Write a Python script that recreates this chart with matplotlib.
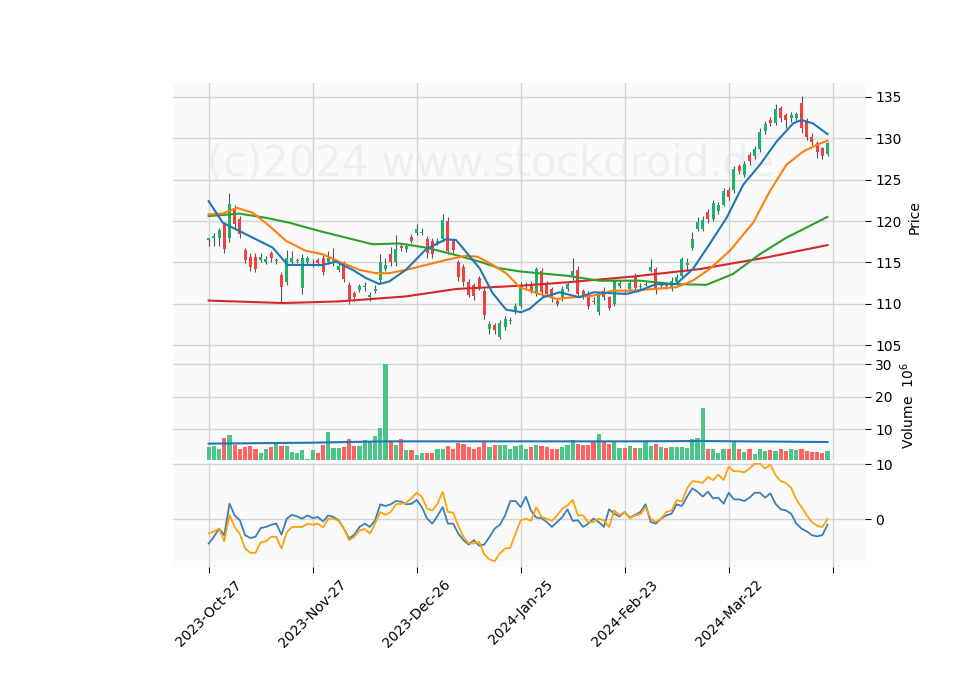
import matplotlib
matplotlib.use("Agg")
import matplotlib.pyplot as plt
import numpy as np

opens = [117.7,117.9,117.9,119.6,117.9,121.6,120.3,116.5,115.7,115.7,115.3,115.0,116.1,115.2,113.5,112.7,115.1,115.2,111.9,115.1,
         115.0,115.3,115.5,115.1,115.2,114.1,115.0,112.3,111.3,111.7,112.0,110.8,111.5,112.9,114.2,116.0,115.0,117.0,116.6,118.1,
         118.6,118.6,117.8,117.6,117.4,117.8,120.0,117.6,115.0,114.5,112.7,112.3,113.1,111.6,107.0,107.4,106.0,107.2,107.9,109.0,
         109.8,112.1,112.4,111.2,114.0,112.4,111.8,110.4,110.8,111.8,113.2,114.1,111.5,111.2,110.4,109.0,111.6,110.8,110.0,112.1,
         111.7,111.8,113.2,112.0,112.3,114.0,114.2,112.1,112.4,111.9,112.6,113.4,114.7,116.8,119.1,119.1,121.1,120.3,121.2,122.0,
         123.7,123.7,126.6,125.6,128.0,127.9,128.7,130.9,132.2,131.9,133.7,132.8,132.5,132.5,134.3,132.0,130.1,129.4,128.8,128.1]
closes = [117.9,118.2,118.9,116.6,122.1,119.6,118.4,115.3,114.5,114.2,115.7,115.4,115.5,115.3,112.0,115.5,115.5,115.3,115.5,115.5,
          115.1,114.9,113.9,115.5,115.3,114.6,113.0,110.5,110.8,112.1,112.2,111.1,111.8,115.0,114.7,115.0,116.6,116.7,117.0,117.6,
          119.1,118.7,116.1,116.0,117.6,120.1,116.4,116.5,113.3,112.7,111.1,110.9,112.0,108.6,107.6,106.9,107.7,108.2,108.0,109.7,
          112.2,112.2,111.6,114.2,111.4,111.2,110.8,110.0,111.8,112.4,114.0,111.2,111.0,109.8,110.2,111.2,110.8,109.5,112.8,112.5,
          111.6,112.5,111.9,112.2,112.4,114.4,111.8,112.3,112.1,112.8,113.2,115.4,114.9,117.8,119.9,120.1,120.2,122.2,122.0,123.6,
          122.9,126.3,126.0,126.9,127.2,128.7,130.8,131.7,131.8,133.5,132.4,132.2,132.8,132.9,131.2,130.2,129.5,128.4,127.8,129.4]
highs = [118.0,118.6,119.2,119.9,123.4,122.0,120.6,116.8,116.1,116.2,116.1,115.8,116.4,115.6,113.8,116.5,116.4,115.6,116.0,115.8,
         115.4,115.6,115.9,116.4,116.8,114.9,115.2,112.6,111.6,112.4,112.6,111.4,112.3,116.0,115.6,116.9,118.3,117.3,117.4,118.4,
         119.6,119.2,118.2,117.9,117.9,120.8,120.5,117.9,115.3,114.8,113.0,112.5,113.4,111.9,107.9,107.7,108.0,108.5,108.4,110.1,
         112.6,112.6,112.8,114.5,114.3,112.8,112.0,110.7,112.1,112.7,115.5,114.6,111.8,111.5,110.8,111.4,112.0,111.0,113.0,112.9,
         111.8,112.9,113.7,112.5,112.8,115.4,114.5,112.5,112.7,113.2,113.6,115.7,115.6,118.7,120.5,120.6,121.5,122.6,122.3,124.0,
         124.1,126.6,126.9,127.2,128.3,129.1,131.3,132.1,132.6,134.1,133.9,133.1,133.2,133.2,135.1,132.4,130.6,129.7,129.0,129.6]
lows = [117.0,117.0,117.0,116.2,117.5,119.2,118.0,114.9,114.0,113.9,115.0,114.8,115.0,114.8,110.1,112.3,114.8,114.9,111.2,114.8,
        114.4,114.6,113.5,114.8,114.6,113.9,112.7,110.0,110.3,111.4,111.6,110.3,111.3,112.5,114.0,114.6,114.6,116.4,116.3,117.3,
        118.3,118.3,115.6,115.6,117.1,117.5,116.0,116.1,112.8,112.2,110.8,110.5,111.7,108.2,106.4,106.4,105.7,106.9,107.6,108.8,
        109.5,111.8,111.3,110.9,111.0,110.9,110.2,109.7,110.4,111.5,112.9,110.9,110.6,109.4,110.0,108.7,110.5,109.2,109.8,111.9,
        111.2,111.5,111.6,111.8,112.1,113.8,111.2,111.9,111.8,111.6,112.3,113.2,114.0,116.5,118.8,118.8,119.8,120.0,120.9,121.8,
        122.6,123.4,125.7,125.3,126.8,127.5,128.4,130.5,131.5,131.6,132.0,131.2,132.0,132.1,130.6,129.8,129.2,127.6,127.5,127.9]

volumes = [4.6,4.9,4.1,7.4,8.4,5.3,3.9,4.6,4.9,3.9,2.6,3.9,4.6,5.9,4.9,
           5.0,3.0,2.6,3.7,1.0,3.7,2.7,5.3,9.2,4.4,4.4,4.6,6.9,4.9,4.9,6.6,6.2,7.8,10.5,30.0,
           6.1,5.3,6.9,3.5,3.5,2.2,2.8,2.8,2.8,4.1,4.1,4.9,4.1,5.9,5.6,4.6,4.1,4.6,6.0,4.6,
           5.2,5.2,5.2,4.0,4.9,5.1,4.1,4.6,5.1,4.9,4.6,4.1,4.1,4.6,5.3,6.7,5.6,5.3,5.3,6.5,
           8.7,6.3,5.5,6.0,4.4,4.4,4.9,4.4,4.4,6.0,4.9,5.5,4.6,4.4,4.6,4.6,4.6,4.4,6.9,7.2,
           16.5,4.1,4.0,2.7,4.1,4.1,6.2,4.1,3.0,3.9,2.3,4.1,3.2,3.5,3.2,3.8,3.2,3.8,3.6,3.8,
           3.2,3.1,2.9,2.7,3.2]
vol_avg_i = [0, 20, 34, 60, 80, 95, 119]
vol_avg_v = [5.6, 5.9, 6.3, 6.3, 6.3, 6.4, 6.1]

osc_blue = [-4.4,-3.2,-1.7,-2.9,2.8,0.7,-0.2,-2.9,-3.4,-3.2,-1.6,-1.4,-1.0,-0.8,-2.8,0.1,0.8,0.5,0.1,0.7,
            0.2,0.4,-0.4,0.7,0.4,-0.2,-1.7,-3.5,-2.8,-1.4,-0.8,-1.4,-0.2,2.7,2.4,2.7,3.3,3.2,2.7,2.8,
            3.5,2.2,0.1,-0.8,0.6,2.2,-0.8,-0.8,-2.6,-3.8,-4.6,-3.8,-4.8,-4.6,-3.2,-1.7,-1.0,0.7,3.3,3.3,
            2.2,4.1,1.5,0.3,0.2,-0.5,-1.4,-0.5,0.4,1.8,-0.3,-0.2,-1.4,-0.8,0.1,-0.5,-1.4,1.8,1.0,0.5,
            1.3,0.3,0.8,1.3,2.7,-0.5,-0.8,0.1,0.7,1.0,2.7,2.4,4.1,5.6,5.0,4.1,5.0,3.8,3.9,2.8,
            4.8,3.6,3.6,3.3,3.9,4.8,4.8,3.9,4.7,2.8,1.8,1.6,1.0,-0.8,-1.7,-2.2,-2.9,-3.1,-2.9,-1.0]
osc_orange = [-2.6,-2.2,-1.7,-4.0,0.8,-1.4,-2.7,-5.3,-6.1,-6.1,-4.2,-4.0,-3.2,-3.2,-5.3,-2.4,-1.4,-1.4,-1.4,-0.8,
              -1.0,-0.8,-1.5,0.1,0.1,-0.3,-1.7,-3.8,-3.2,-2.0,-1.8,-2.6,-0.8,1.3,0.8,1.3,2.7,2.8,3.0,3.8,
              4.8,4.1,1.9,1.6,2.8,5.0,1.3,1.2,-1.2,-3.2,-4.4,-4.4,-4.1,-6.4,-7.3,-7.6,-6.2,-5.3,-5.2,-2.6,
              -0.2,0.1,-0.3,2.2,0.4,0.1,-0.3,0.7,1.9,2.5,3.5,0.7,0.7,-0.6,-0.5,0.1,-0.2,-1.4,1.6,0.7,
              1.3,0.2,0.7,0.9,2.2,0.1,-0.5,0.1,1.3,1.6,3.5,3.2,5.6,6.9,6.8,6.6,7.7,7.1,8.1,7.1,
              9.5,8.7,8.7,8.5,9.2,10.1,10.1,9.2,9.9,8.0,6.9,6.6,5.7,3.6,2.2,0.7,-0.5,-1.2,-1.4,0.0]

ma_blue_i = [0,2.7,5.9,9.1,12.3,15.2,18.7,21.9,24.5,27.7,30.3,32.8,34.7,37.9,41.8,45.6,47.6,52.1,54.6,57.2,60.1,
             61.7,64.3,67.5,71.3,74,77.1,80.3,82.9,86.1,89.9,93.1,96.3,99.6,102.8,106,109.2,112.4,114,116.2,119]
ma_blue_v = [122.4,119.8,118.8,117.8,116.8,114.7,114.7,114.7,115.1,114.1,113.1,112.4,112.7,114.1,116.6,117.8,117.7,114.3,111.3,109.3,109.0,
             109.4,110.8,111.4,110.8,111.4,111.3,111.2,111.6,112.4,112.4,114.2,117.2,120.4,124.4,126.8,129.6,131.8,132.2,131.8,130.5]
ma_orange_i = [0,2.7,5.4,8.5,11.7,14.9,18.7,21.9,25.1,29,32.2,34.7,37.9,41.8,45.6,49.4,51.7,54.6,57.2,59.8,
               63.6,66.9,70.1,74,77.8,81.6,85.5,89.9,93.1,96.3,100.2,104.7,107.9,111.1,114.3,116.9,119]
ma_orange_v = [120.8,120.9,121.6,121.0,119.4,117.6,116.4,116.0,115.1,114.1,113.7,113.7,114.1,114.7,115.3,115.8,115.7,114.7,113.7,112.0,
               111.2,110.6,110.8,111.0,111.6,111.6,111.8,112.0,112.8,114.2,116.4,119.8,123.6,126.8,128.4,129.2,129.7]
ma_green_i = [0,5.9,11,15.5,21.9,26.4,31.5,36.6,41.8,46.9,52.1,55.9,60.1,68.8,75.2,82.9,89.3,95.7,100.8,106,111.1,119]
ma_green_v = [120.6,120.9,120.4,119.8,118.7,118.0,117.2,117.3,116.8,116.0,115.1,114.3,113.9,113.4,112.8,112.8,112.4,112.3,113.6,116.0,118.0,120.5]
ma_red_i = [0,14.3,25.1,37.9,47.6,60.1,68.8,81.6,94.4,107.2,119]
ma_red_v = [110.4,110.1,110.3,110.9,111.8,112.2,112.6,113.3,114.2,115.6,117.1]

tick_pos = [0, 20, 40, 60, 80, 100, 120]
tick_labels = ["2023-Oct-27", "2023-Nov-27", "2023-Dec-26", "2024-Jan-25", "2024-Feb-23", "2024-Mar-22", ""]

UP, DN = "#1db26b", "#f53f3f"
VUP, VDN = "#4cc58a", "#ff6262"
BG, GRID = "#fafafa", "#d5d5d5"

fig = plt.figure(figsize=(9.6, 6.9), dpi=100)
axp = fig.add_axes([0.180, 0.490, 0.721, 0.390])
axv = fig.add_axes([0.180, 0.333, 0.721, 0.157], sharex=axp)
axo = fig.add_axes([0.180, 0.178, 0.721, 0.151], sharex=axp)

n = len(closes)
x = np.arange(n)
o, c, h, l = map(np.array, (opens, closes, highs, lows))
up = c >= o
cols = np.where(up, UP, DN)
axp.vlines(x, l, h, color="#555555", linewidth=0.8, zorder=2)
axp.bar(x, np.maximum(np.abs(c - o), 0.08), bottom=np.minimum(o, c), width=0.6, color=cols, zorder=3)
axp.plot(ma_red_i, ma_red_v, color="#d62728", lw=1.5, zorder=4)
axp.plot(ma_green_i, ma_green_v, color="#2ca02c", lw=1.5, zorder=4)
axp.plot(ma_orange_i, ma_orange_v, color="#ff7f0e", lw=1.5, zorder=4)
axp.plot(ma_blue_i, ma_blue_v, color="#1f77b4", lw=1.5, zorder=4)
axp.text(0.4595, 0.70, "(c)2024 www.stockdroid.de", transform=axp.transAxes, ha="center", va="center",
         fontsize=30, color="#eeeeee", zorder=0.3)
axp.set_ylim(104.2, 136.7)
axp.set_yticks([105, 110, 115, 120, 125, 130, 135])
axp.set_ylabel("Price")

vol = np.array(volumes[:n])
axv.bar(x[:len(vol)], vol, width=0.8, color=np.where(up[:len(vol)], VUP, VDN))
axv.plot(vol_avg_i, vol_avg_v, color="#1f77b4", lw=1.5)
axv.set_ylim(0.5, 33.8)
axv.set_yticks([10, 20, 30])
axv.set_ylabel("Volume  $10^6$")

axo.plot(x, osc_blue, color="#3c7fb5", lw=1.3)
axo.plot(x, osc_orange, color="#ffa10a", lw=1.3)
axo.set_ylim(-8.7, 10.2)
axo.set_yticks([0, 10])

for ax in (axp, axv, axo):
    ax.set_facecolor(BG)
    ax.grid(True, color=GRID, lw=1)
    ax.set_axisbelow(True)
    for s in ax.spines.values():
        s.set_visible(False)
    ax.yaxis.tick_right()
    ax.yaxis.set_label_position("right")
    ax.tick_params(axis="y", labelsize=10, length=4)
axp.tick_params(axis="x", labelbottom=False, length=0)
axv.tick_params(axis="x", labelbottom=False, length=0)
axo.set_xlim(-6.9, 126.2)
axo.set_xticks(tick_pos)
axo.set_xticklabels(tick_labels, rotation=45, ha="center", fontsize=10)
axo.tick_params(axis="x", length=4)

fig.savefig("out.png", dpi=100)
